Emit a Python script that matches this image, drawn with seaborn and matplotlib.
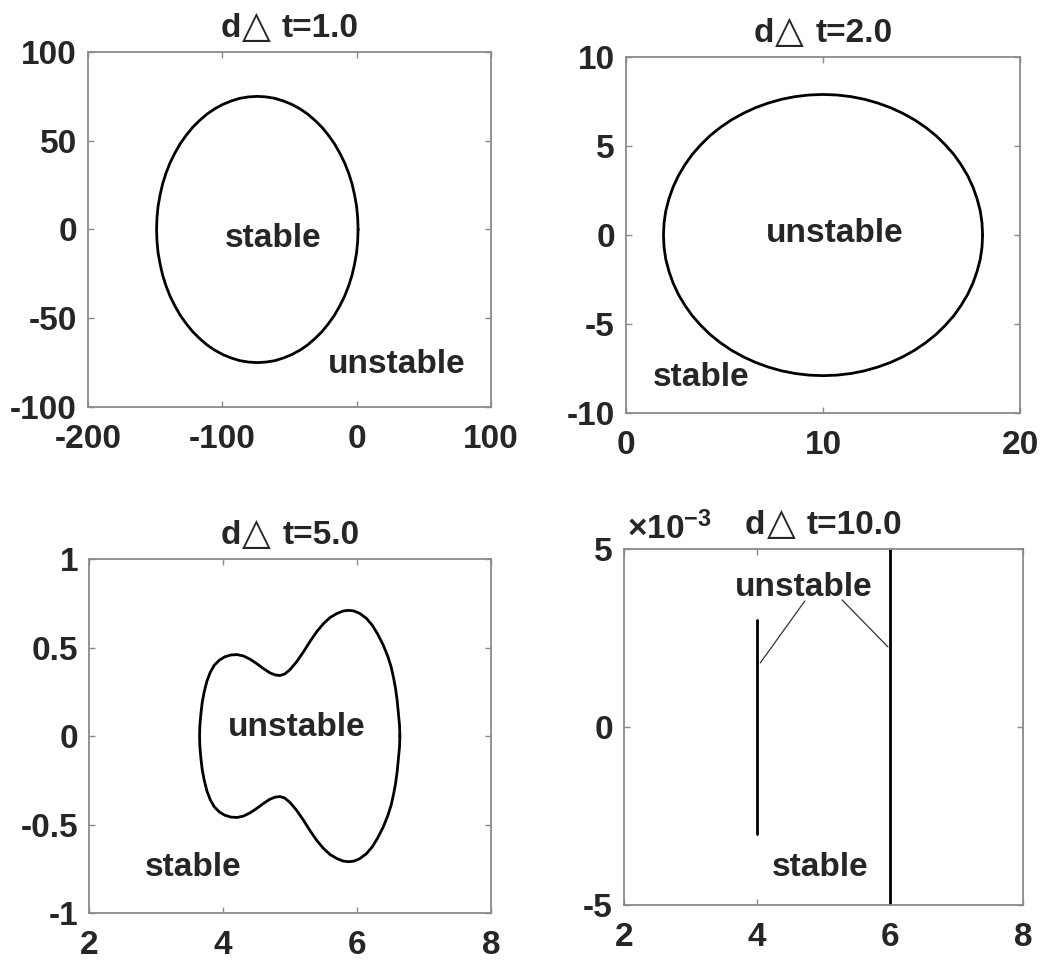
import numpy as np
import pandas as pd
import matplotlib
matplotlib.use("Agg")
import matplotlib.pyplot as plt
import seaborn as sns
from matplotlib.ticker import FixedLocator, FuncFormatter
from matplotlib.offsetbox import TextArea, HPacker, AnchoredOffsetbox

# ---------------- data ----------------
# panel 1: dΔt = 1.0  (closed boundary curve)
p1_x = [1.0, 0.7, -0.1, -1.6, -3.5, -6.0, -9.0, -12.6, -16.5, -21.0, -25.8, -31.0,
        -36.5, -42.3, -48.4, -54.6, -61.0, -67.5, -74.0,
        -80.5, -87.0, -93.4, -99.6, -105.7, -111.5, -117.0, -122.2, -127.0,
        -131.5, -135.4, -139.0, -142.0, -144.5, -146.4, -147.9, -148.7, -149.0,
        -148.7, -147.9, -146.4, -144.5, -142.0, -139.0, -135.4, -131.5, -127.0,
        -122.2, -117.0, -111.5, -105.7, -99.6, -93.4, -87.0, -80.5, -74.0,
        -67.5, -61.0, -54.6, -48.4, -42.3, -36.5, -31.0, -25.8, -21.0, -16.5,
        -12.6, -9.0, -6.0, -3.5, -1.6, -0.1, 0.7, 1.0]
p1_y = [0.0, 6.5, 13.0, 19.4, 25.7, 31.7, 37.5, 43.0, 48.2, 53.0, 57.5, 61.4,
        65.0, 68.0, 70.5, 72.4, 73.9, 74.7, 75.0,
        74.7, 73.9, 72.4, 70.5, 68.0, 65.0, 61.4, 57.5, 53.0,
        48.2, 43.0, 37.5, 31.7, 25.7, 19.4, 13.0, 6.5, 0.0,
        -6.5, -13.0, -19.4, -25.7, -31.7, -37.5, -43.0, -48.2, -53.0,
        -57.5, -61.4, -65.0, -68.0, -70.5, -72.4, -73.9, -74.7, -75.0,
        -74.7, -73.9, -72.4, -70.5, -68.0, -65.0, -61.4, -57.5, -53.0, -48.2,
        -43.0, -37.5, -31.7, -25.7, -19.4, -13.0, -6.5, 0.0]

# panel 2: dΔt = 2.0
p2_x = [18.10, 18.07, 17.98, 17.82, 17.61, 17.34, 17.01, 16.64, 16.20, 15.73,
        15.21, 14.65, 14.05, 13.42, 12.77, 12.10, 11.41, 10.71, 10.00,
        9.29, 8.59, 7.90, 7.23, 6.58, 5.95, 5.35, 4.79, 4.27,
        3.80, 3.36, 2.99, 2.66, 2.39, 2.18, 2.02, 1.93, 1.90,
        1.93, 2.02, 2.18, 2.39, 2.66, 2.99, 3.36, 3.80, 4.27,
        4.79, 5.35, 5.95, 6.58, 7.23, 7.90, 8.59, 9.29, 10.00,
        10.71, 11.41, 12.10, 12.77, 13.42, 14.05, 14.65, 15.21, 15.73, 16.20,
        16.64, 17.01, 17.34, 17.61, 17.82, 17.98, 18.07, 18.10]
p2_y = [0.00, 0.69, 1.37, 2.04, 2.70, 3.34, 3.95, 4.53, 5.08, 5.59,
        6.05, 6.47, 6.84, 7.16, 7.42, 7.63, 7.78, 7.87, 7.90,
        7.87, 7.78, 7.63, 7.42, 7.16, 6.84, 6.47, 6.05, 5.59,
        5.08, 4.53, 3.95, 3.34, 2.70, 2.04, 1.37, 0.69, 0.00,
        -0.69, -1.37, -2.04, -2.70, -3.34, -3.95, -4.53, -5.08, -5.59,
        -6.05, -6.47, -6.84, -7.16, -7.42, -7.63, -7.78, -7.87, -7.90,
        -7.87, -7.78, -7.63, -7.42, -7.16, -6.84, -6.47, -6.05, -5.59, -5.08,
        -4.53, -3.95, -3.34, -2.70, -2.04, -1.37, -0.69, 0.00]

# panel 3: dΔt = 5.0
p3_x = [6.64, 6.635, 6.62, 6.60, 6.575, 6.545, 6.51, 6.46, 6.39, 6.31, 6.23,
        6.14, 6.04, 5.95, 5.87, 5.79, 5.70, 5.60, 5.50, 5.40, 5.30, 5.20,
        5.10, 5.00, 4.92, 4.85, 4.78, 4.70, 4.60, 4.50, 4.40, 4.30, 4.21,
        4.12, 4.03, 3.95, 3.87, 3.81, 3.76, 3.72, 3.69, 3.67, 3.655, 3.65,
        3.655, 3.67, 3.69, 3.72, 3.76, 3.81, 3.87, 3.95, 4.03, 4.12, 4.21,
        4.30, 4.40, 4.50, 4.60, 4.70, 4.78, 4.85, 4.92, 5.00, 5.10, 5.20,
        5.30, 5.40, 5.50, 5.60, 5.70, 5.79, 5.87, 5.95, 6.04, 6.14, 6.23,
        6.31, 6.39, 6.46, 6.51, 6.545, 6.575, 6.60, 6.62, 6.635, 6.64]
p3_y = [0.00, 0.06, 0.12, 0.20, 0.27, 0.33, 0.39, 0.45, 0.515, 0.575, 0.625,
        0.665, 0.693, 0.707, 0.710, 0.706, 0.692, 0.670, 0.635, 0.590, 0.535, 0.475,
        0.420, 0.375, 0.350, 0.342, 0.345, 0.357, 0.382, 0.410, 0.435, 0.453, 0.460,
        0.458, 0.448, 0.430, 0.400, 0.360, 0.310, 0.250, 0.190, 0.125, 0.060, 0.00,
        -0.060, -0.125, -0.190, -0.250, -0.310, -0.360, -0.400, -0.430, -0.448, -0.458, -0.460,
        -0.453, -0.435, -0.410, -0.382, -0.357, -0.345, -0.342, -0.350, -0.375, -0.420, -0.475,
        -0.535, -0.590, -0.635, -0.670, -0.692, -0.706, -0.710, -0.707, -0.693, -0.665, -0.625,
        -0.575, -0.515, -0.45, -0.39, -0.33, -0.27, -0.20, -0.12, -0.06, 0.00]

# panel 4: dΔt = 10.0  (two vertical segments)
p4_line1_x = [4.0, 4.0]
p4_line1_y = [-3.0e-3, 3.0e-3]
p4_line2_x = [6.0, 6.0]
p4_line2_y = [-5.2e-3, 5.2e-3]
p4_lead1 = ([4.72, 4.05], [3.54e-3, 1.8e-3])
p4_lead2 = ([5.28, 5.97], [3.57e-3, 2.25e-3])

titles = ["1.0", "2.0", "5.0", "10.0"]
xlims = [(-200, 100), (0, 20), (2, 8), (2, 8)]
ylims = [(-100, 100), (-10, 10), (-1, 1), (-5e-3, 5e-3)]
xticks = [[-200, -100, 0, 100], [0, 10, 20], [2, 4, 6, 8], [2, 4, 6, 8]]
yticks = [[-100, -50, 0, 50, 100], [-10, -5, 0, 5, 10], [-1, -0.5, 0, 0.5, 1],
          [-5e-3, 0, 5e-3]]
labels = [
    [("stable", -62, -5), ("unstable", 30, -76)],
    [("unstable", 10.6, 0.1), ("stable", 3.8, -8.0)],
    [("unstable", 5.1, 0.05), ("stable", 3.55, -0.74)],
    [("unstable", 4.71, 3.93e-3), ("stable", 4.95, -3.96e-3)],
]

# ---------------- style ----------------
sns.set_theme(style="white")
plt.rcParams["font.family"] = ["Liberation Sans", "DejaVu Sans"]
plt.rcParams["font.weight"] = "bold"
plt.rcParams["mathtext.fontset"] = "custom"
plt.rcParams["mathtext.rm"] = "Liberation Sans"
plt.rcParams["mathtext.bf"] = "Liberation Sans:bold"
plt.rcParams["mathtext.it"] = "Liberation Sans:italic"

TXT = "#262626"
EDGE = "#8a8a8a"

fig = plt.figure(figsize=(10.42, 9.61), dpi=100)
rects = [
    [0.0845, 0.5765, 0.3868, 0.3694],
    [0.6008, 0.5702, 0.3781, 0.3704],
    [0.0854, 0.0499, 0.3858, 0.3684],
    [0.5988, 0.0583, 0.3829, 0.3704],
]
axes = [fig.add_axes(r) for r in rects]

curves = [(p1_x, p1_y), (p2_x, p2_y), (p3_x, p3_y)]
for i, (cx, cy) in enumerate(curves):
    df = pd.DataFrame({"x": cx, "y": cy})
    sns.lineplot(data=df, x="x", y="y", sort=False, estimator=None,
                 color="black", linewidth=2.0, ax=axes[i], legend=False)

ax4 = axes[3]
for lx, ly in [(p4_line1_x, p4_line1_y), (p4_line2_x, p4_line2_y)]:
    sns.lineplot(x=lx, y=ly, sort=False, estimator=None, color="black",
                 linewidth=2.0, ax=ax4, legend=False)
for lx, ly in [p4_lead1, p4_lead2]:
    sns.lineplot(x=lx, y=ly, sort=False, estimator=None, color="#333333",
                 linewidth=0.9, ax=ax4, legend=False)

bold_props = dict(fontsize=24, fontweight="bold", color=TXT,
                  family=["Liberation Sans", "DejaVu Sans"])
tri_props = dict(fontsize=27, fontweight="normal", color=TXT, family="DejaVu Sans")

for i, ax in enumerate(axes):
    ax.set_xlim(*xlims[i])
    ax.set_ylim(*ylims[i])
    ax.set_xlabel("")
    ax.set_ylabel("")
    ax.xaxis.set_major_locator(FixedLocator(xticks[i]))
    ax.yaxis.set_major_locator(FixedLocator(yticks[i]))
    if i == 3:
        ax.yaxis.set_major_formatter(FuncFormatter(lambda v, p: "%g" % round(v * 1e3, 6)))
    else:
        ax.yaxis.set_major_formatter(FuncFormatter(lambda v, p: "%g" % v))
    ax.xaxis.set_major_formatter(FuncFormatter(lambda v, p: "%g" % v))
    ax.tick_params(axis="both", which="major", direction="in", length=4,
                   width=1.0, color=EDGE, labelsize=24, labelcolor=TXT,
                   top=True, right=True, bottom=True, left=True)
    ax.tick_params(axis="x", pad=12)
    ax.tick_params(axis="y", pad=8)
    for lab in ax.get_xticklabels() + ax.get_yticklabels():
        lab.set_fontweight("bold")
    for sp in ax.spines.values():
        sp.set_visible(True)
        sp.set_color(EDGE)
        sp.set_linewidth(1.3)

    # title: bold "d", thin outlined triangle, bold "t=..."
    part_d = TextArea("d", textprops=bold_props)
    part_tri = TextArea("\u25B3", textprops=tri_props)
    part_t = TextArea("t=" + titles[i], textprops=bold_props)
    inner = HPacker(children=[part_d, part_tri], align="baseline", pad=0, sep=1)
    packed = HPacker(children=[inner, part_t], align="baseline", pad=0, sep=8)
    anch = AnchoredOffsetbox(loc="lower center", child=packed, pad=0, borderpad=0,
                             frameon=False, bbox_to_anchor=(0.5, 1.02),
                             bbox_transform=ax.transAxes)
    ax.add_artist(anch)

    for (s, tx, ty) in labels[i]:
        ax.text(tx, ty, s, ha="center", va="center", fontsize=24,
                fontweight="bold", color=TXT)

ax4.text(0.008, 1.008, "$\\times$10$^{-3}$", transform=ax4.transAxes,
         ha="left", va="bottom", fontsize=24, fontweight="bold", color=TXT)

fig.savefig("out.png", dpi=100)
